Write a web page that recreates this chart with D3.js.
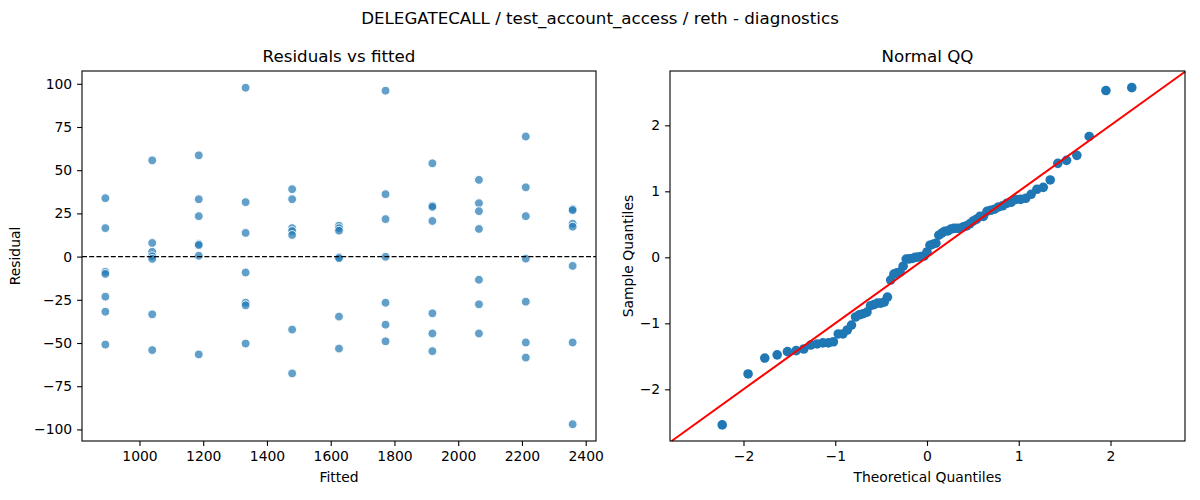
<!DOCTYPE html>
<html>
<head>
<meta charset="utf-8">
<script src="https://cdn.jsdelivr.net/npm/d3@7"></script>
<style>
  body { margin: 0; background: #fff; }
  svg text { font-family: "DejaVu Sans", sans-serif; fill: #000; }
  .axis path, .axis line { stroke: #000; stroke-width: 1.1px; }
  .axis text { font-size: 13.9px; }
</style>
</head>
<body>
<svg id="chart" width="1200" height="500"></svg>
<script>
// fitted value of each group and the residuals of the seven runs in it
var fitted = [893, 1040, 1186, 1333, 1479, 1626, 1772, 1919, 2065, 2212, 2359];
var residuals = [
    [33.8, 16.5, -8.8, -10.0, -23.2, -31.9, -50.9],
    [55.7, 7.9, 2.8, 0.2, -1.3, -33.4, -54.1],
    [58.6, 33.2, 23.4, 7.3, 6.7, 0.5, -56.6],
    [97.7, 31.5, 13.7, -9.2, -26.7, -28.2, -50.3],
    [39.0, 33.2, 16.5, 14.8, 12.5, -42.2, -67.6],
    [17.9, 16.4, 15.0, -0.3, -0.9, -34.7, -53.2],
    [96.0, 36.1, 21.7, -0.1, -26.7, -39.4, -49.0],
    [54.0, 29.5, 28.8, 20.6, -32.8, -44.5, -54.7],
    [44.4, 30.9, 26.3, 16.0, -13.4, -27.6, -44.5],
    [69.5, 40.1, 23.4, -1.2, -26.1, -49.7, -58.4],
    [27.5, 26.9, 19.0, 17.3, -5.4, -49.7, -97.0]
];

// normal QQ: theoretical vs sample quantiles
var theoretical = [
    -2.232, -1.950, -1.768, -1.633, -1.521, -1.426, -1.343, -1.267, -1.198, -1.135,
    -1.076, -1.020, -0.967, -0.917, -0.869, -0.823, -0.779, -0.736, -0.695, -0.654,
    -0.615, -0.577, -0.539, -0.502, -0.466, -0.431, -0.396, -0.361, -0.327, -0.293,
    -0.260, -0.227, -0.194, -0.161, -0.129, -0.097, -0.064, -0.032, 0,
    0.032, 0.064, 0.097, 0.129, 0.161, 0.194, 0.227, 0.260, 0.293, 0.327,
    0.361, 0.396, 0.431, 0.466, 0.502, 0.539, 0.577, 0.615, 0.654, 0.695,
    0.736, 0.779, 0.823, 0.869, 0.917, 0.967, 1.020, 1.076, 1.135, 1.198,
    1.267, 1.343, 1.426, 1.521, 1.633, 1.768, 1.950, 2.232
];
var sample = [
    -2.539, -1.767, -1.526, -1.478, -1.429, -1.413, -1.389, -1.329, -1.313, -1.297,
    -1.297, -1.279, -1.161, -1.161, -1.101, -1.027, -0.904, -0.870, -0.854, -0.830,
    -0.733, -0.717, -0.694, -0.694, -0.678, -0.602, -0.345, -0.255, -0.234, -0.224,
    -0.135, -0.027, -0.024, -0.017, -0.001, 0.004, 0.012, 0.020, 0.081,
    0.183, 0.199, 0.214, 0.335, 0.367, 0.396, 0.401, 0.427, 0.438, 0.440,
    0.440, 0.461, 0.477, 0.506, 0.548, 0.577, 0.621, 0.621, 0.697, 0.713,
    0.729, 0.763, 0.781, 0.818, 0.834, 0.878, 0.878, 0.894, 0.955, 1.031,
    1.060, 1.172, 1.424, 1.469, 1.545, 1.831, 2.527, 2.571
];

var fittedTicks = [1000, 1200, 1400, 1600, 1800, 2000, 2200, 2400];
var residualTicks = [-100, -75, -50, -25, 0, 25, 50, 75, 100];
var quantileTicks = [-2, -1, 0, 1, 2];

var svg = d3.select("#chart");
var blue = "#1f77b4";

svg.append("text")
    .attr("x", 600).attr("y", 24)
    .attr("text-anchor", "middle")
    .style("font-size", "16.7px")
    .text("DELEGATECALL / test_account_access / reth - diagnostics");

function frame(g, w, h) {
    g.append("rect")
        .attr("width", w).attr("height", h)
        .attr("fill", "none")
        .attr("stroke", "#000")
        .attr("stroke-width", 1.1);
}

function axes(g, x, y, w, h, xticks, yticks, title, xlabel, ylabel, ylabelX) {
    g.append("g").attr("class", "axis")
        .attr("transform", "translate(0," + h + ")")
        .call(d3.axisBottom(x).tickValues(xticks).tickSize(4.9).tickPadding(4.9).tickFormat(d3.format("d")))
        .call(function (s) { s.select(".domain").remove(); });
    g.append("g").attr("class", "axis")
        .call(d3.axisLeft(y).tickValues(yticks).tickSize(4.9).tickPadding(4.9).tickFormat(d3.format("d")))
        .call(function (s) { s.select(".domain").remove(); });
    g.append("text")
        .attr("x", w / 2).attr("y", -9)
        .attr("text-anchor", "middle")
        .style("font-size", "16.7px")
        .text(title);
    g.append("text")
        .attr("x", w / 2).attr("y", h + 41)
        .attr("text-anchor", "middle")
        .style("font-size", "13.9px")
        .text(xlabel);
    g.append("text")
        .attr("transform", "translate(" + ylabelX + "," + (h / 2) + ") rotate(-90)")
        .attr("text-anchor", "middle")
        .style("font-size", "13.9px")
        .text(ylabel);
}

// ---- left: residuals vs fitted ----
var L = { left: 82, top: 71, w: 514, h: 370 };
var gl = svg.append("g").attr("transform", "translate(" + L.left + "," + L.top + ")");
var xl = d3.scaleLinear().domain([819.7, 2432.3]).range([0, L.w]);
var yl = d3.scaleLinear().domain([-106.7, 107.4]).range([L.h, 0]);

var points = [];
fitted.forEach(function (f, i) {
    residuals[i].forEach(function (r) { points.push({ fitted: f, residual: r }); });
});

gl.selectAll("circle.res")
    .data(points)
  .enter().append("circle")
    .attr("class", "res")
    .attr("cx", function (d) { return xl(d.fitted); })
    .attr("cy", function (d) { return yl(d.residual); })
    .attr("r", 4.4)
    .attr("fill", blue)
    .attr("fill-opacity", 0.7)
    .attr("stroke", "#fff")
    .attr("stroke-width", 0.9);

gl.append("line")
    .attr("x1", 0).attr("x2", L.w)
    .attr("y1", yl(0)).attr("y2", yl(0))
    .attr("stroke", "#000")
    .attr("stroke-width", 1.3)
    .attr("stroke-dasharray", "5,2.2");

frame(gl, L.w, L.h);
axes(gl, xl, yl, L.w, L.h, fittedTicks, residualTicks, "Residuals vs fitted", "Fitted", "Residual", -62);

// ---- right: normal QQ ----
var R = { left: 670, top: 71, w: 515, h: 370 };
var gr = svg.append("g").attr("transform", "translate(" + R.left + "," + R.top + ")");
var xr = d3.scaleLinear().domain([-2.801, 2.812]).range([0, R.w]);
var yr = d3.scaleLinear().domain([-2.783, 2.823]).range([R.h, 0]);

gr.selectAll("circle.qq")
    .data(theoretical)
  .enter().append("circle")
    .attr("class", "qq")
    .attr("cx", function (d) { return xr(d); })
    .attr("cy", function (d, i) { return yr(sample[i]); })
    .attr("r", 4.8)
    .attr("fill", blue);

var lo = Math.max(xr.domain()[0], yr.domain()[0]),
    hi = Math.min(xr.domain()[1], yr.domain()[1]);
gr.append("line")
    .attr("x1", xr(lo)).attr("y1", yr(lo))
    .attr("x2", xr(hi)).attr("y2", yr(hi))
    .attr("stroke", "#ff0000")
    .attr("stroke-width", 2);

frame(gr, R.w, R.h);
axes(gr, xr, yr, R.w, R.h, quantileTicks, quantileTicks, "Normal QQ", "Theoretical Quantiles", "Sample Quantiles", -37);
</script>
</body>
</html>
